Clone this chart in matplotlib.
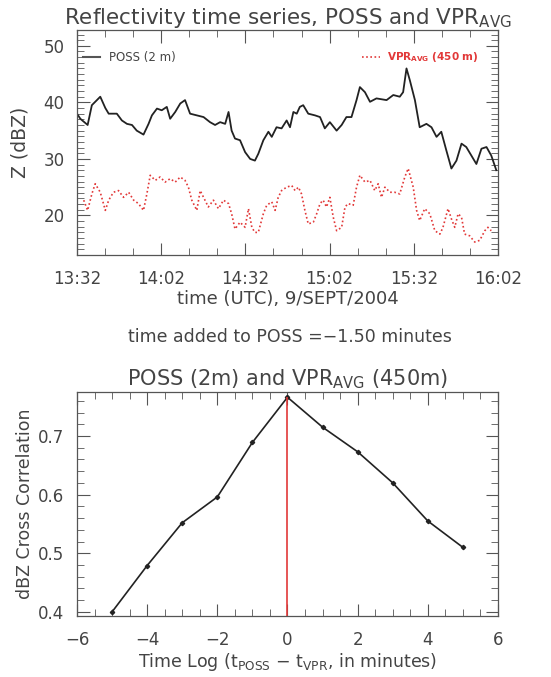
import matplotlib
matplotlib.use("Agg")
import matplotlib.pyplot as plt
from matplotlib.ticker import MultipleLocator, FixedLocator
import numpy as np

# Data

# minutes after 13:32 UTC
poss_t = [0, 1.2, 3.8, 5.3, 7.1, 8.3, 10.1, 11.3, 14.2, 16.0, 17.8, 19.6, 21.3,
          23.7, 25.5, 26.7, 28.5, 30.2, 32.0, 33.2, 35.0, 36.8, 38.5, 40.3, 42.7,
          45.1, 47.4, 49.2, 51.0, 52.8, 54.0, 55.1, 56.3, 58.1, 59.9, 61.7, 63.4,
          64.6, 66.4, 68.2, 69.4, 71.1, 72.9, 74.7, 75.9, 77.1, 78.3, 79.4, 80.6,
          82.4, 84.8, 86.6, 88.3, 90.1, 92.5, 94.3, 96.0, 97.8, 99.6, 100.8, 102.6,
          104.4, 106.7, 110.3, 112.7, 115.0, 116.2, 117.4, 118.6, 120.4, 122.1,
          124.5, 126.3, 128.1, 129.8, 131.6, 133.4, 135.2, 137.0, 138.7, 140.5,
          142.3, 144.1, 145.9, 147.6, 149.4]
poss_z = [38.0, 37.1, 36.0, 39.5, 40.4, 41.0, 39.0, 38.0, 38.0, 36.8, 36.2, 36.0,
          35.0, 34.3, 36.2, 37.7, 38.9, 38.6, 39.2, 37.1, 38.3, 39.8, 40.4, 38.0,
          37.7, 37.4, 36.5, 36.0, 36.5, 36.2, 38.3, 35.0, 33.6, 33.3, 31.2, 30.0,
          29.7, 30.9, 33.3, 34.8, 33.9, 35.6, 35.4, 36.8, 35.6, 38.3, 38.0, 39.2,
          39.5, 38.0, 37.7, 37.4, 35.4, 36.5, 35.0, 36.0, 37.4, 37.4, 40.4, 42.7,
          41.8, 40.1, 40.7, 40.4, 41.3, 41.0, 41.8, 46.0, 43.9, 40.4, 35.6, 36.2,
          35.6, 33.9, 34.8, 31.5, 28.3, 29.7, 32.7, 32.1, 30.6, 29.1, 31.8, 32.1,
          30.6, 28.0]

vpr_t = [2.4, 3.8, 5.3, 6.5, 8.3, 10.1, 11.3, 13.0, 14.8, 16.6, 18.4, 20.2, 21.9,
         23.7, 24.9, 26.1, 27.9, 29.6, 31.4, 33.2, 35.0, 36.8, 38.5, 39.7, 40.9,
         42.7, 43.9, 45.1, 46.8, 48.6, 50.4, 52.2, 54.0, 55.1, 56.3, 58.1, 59.9,
         61.1, 62.3, 63.4, 64.6, 66.4, 67.6, 69.4, 70.6, 71.7, 72.9, 74.7, 76.5,
         77.7, 78.9, 80.0, 81.2, 82.4, 84.2, 85.4, 86.6, 87.7, 88.9, 90.1, 91.3,
         92.5, 94.3, 95.5, 96.6, 98.4, 99.6, 100.8, 102.6, 104.4, 106.1, 107.3,
         108.5, 109.7, 111.5, 113.2, 115.0, 116.8, 118.0, 119.8, 121.0, 122.1,
         123.9, 125.7, 127.5, 129.3, 130.4, 132.2, 133.4, 134.6, 135.8, 137.0,
         138.1, 139.9, 141.7, 143.5, 145.3, 146.4, 147.6]
vpr_z = [22.7, 20.9, 23.8, 25.6, 24.1, 20.9, 22.7, 24.1, 24.4, 23.2, 24.1, 22.7,
         22.1, 20.9, 23.8, 27.1, 26.2, 26.8, 25.9, 26.5, 25.9, 26.8, 26.2, 25.0,
         22.7, 20.9, 24.4, 23.2, 21.5, 22.7, 21.2, 22.7, 22.1, 20.3, 17.6, 18.8,
         17.9, 21.2, 17.9, 17.0, 17.0, 20.3, 21.8, 22.4, 20.9, 23.2, 24.4, 25.0,
         25.3, 24.4, 25.0, 23.8, 20.9, 18.5, 18.8, 20.3, 22.1, 22.7, 21.5, 23.2,
         19.7, 17.3, 17.9, 21.5, 22.1, 21.8, 25.0, 27.1, 25.9, 26.2, 24.4, 25.6,
         23.2, 25.0, 24.1, 24.1, 23.8, 26.8, 28.3, 25.0, 20.9, 19.1, 21.2, 20.3,
         17.3, 16.7, 17.9, 21.2, 19.4, 17.9, 20.3, 19.7, 16.7, 16.4, 15.3, 15.6,
         17.3, 17.9, 17.3]

time_ticks = [0, 30, 60, 90, 120, 150]
time_labels = ["13:32", "14:02", "14:32", "15:02", "15:32", "16:02"]

lag = [-5, -4, -3, -2, -1, 0, 1, 2, 3, 4, 5]
corr = [0.400, 0.479, 0.552, 0.596, 0.689, 0.766, 0.715, 0.673, 0.620, 0.555, 0.510]

# Plotting

fig = plt.figure(figsize=(5.51, 6.77), dpi=100)
frame_col = "#555555"
txt_col = "#444444"
red = "#e23838"


def style_axes(ax):
    for s in ax.spines.values():
        s.set_color(frame_col)
        s.set_linewidth(0.9)
    ax.tick_params(which="both", direction="in", top=True, right=True,
                   colors=frame_col, labelcolor=txt_col, labelsize=12)
    ax.tick_params(which="major", length=9)
    ax.tick_params(which="minor", length=5)
    ax.tick_params(axis="x", pad=11)
    ax.tick_params(axis="y", pad=9)


ax1 = fig.add_axes([0.1397, 0.6233, 0.7641, 0.3324])
ax1.plot(poss_t, poss_z, color="#222222", lw=1.3)
ax1.plot(vpr_t, vpr_z, color=red, lw=1.2, ls=(0, (1, 1.5)))
ax1.set_xlim(0, 150)
ax1.set_ylim(13, 52.8)
ax1.xaxis.set_major_locator(FixedLocator(time_ticks))
ax1.set_xticklabels(time_labels)
ax1.xaxis.set_minor_locator(MultipleLocator(10))
ax1.yaxis.set_major_locator(MultipleLocator(10))
ax1.yaxis.set_minor_locator(MultipleLocator(1))
style_axes(ax1)
ax1.set_ylabel("Z (dBZ)", fontsize=13.5, color=txt_col, labelpad=10)
ax1.set_xlabel("time (UTC), 9/SEPT/2004", fontsize=13, color=txt_col, labelpad=1)
ax1.set_title(r"Reflectivity time series, POSS and VPR$_{\mathrm{AVG}}$",
              fontsize=15.5, color=txt_col, pad=0)

# legend entries
ax1.plot([2.1, 8.2], [48, 48], color="#555555", lw=1.5)
ax1.text(11.5, 48, "POSS (2 m)", fontsize=8.5, color=txt_col, va="center")
ax1.plot([101.6, 108], [48, 48], color=red, lw=1.2, ls=(0, (1, 1.5)))
ax1.text(110.5, 48, r"VPR$_{\mathbf{AVG}}$ (450 m)", fontsize=7.5, color=red,
         va="center", fontweight="bold")

fig.text(0.527, 0.502, "time added to POSS =\u22121.50 minutes", fontsize=12.5,
         color=txt_col, ha="center", va="center")

ax2 = fig.add_axes([0.1397, 0.0901, 0.7641, 0.3309])
ax2.plot(lag, corr, color="#222222", lw=1.2, marker="D", ms=2.2)
ax2.set_xlim(-6, 6)
ax2.set_ylim(0.393, 0.775)
peak = int(np.argmax(corr))
ax2.vlines(lag[peak], 0.393, corr[peak], color=red, lw=1.2)
ax2.xaxis.set_major_locator(MultipleLocator(2))
ax2.xaxis.set_minor_locator(MultipleLocator(0.5))
ax2.yaxis.set_major_locator(MultipleLocator(0.1))
ax2.yaxis.set_minor_locator(MultipleLocator(0.02))
ax2.yaxis.set_major_formatter(matplotlib.ticker.FormatStrFormatter("%.1f"))
style_axes(ax2)
ax2.set_ylabel("dBZ Cross Correlation", fontsize=12.5, color=txt_col, labelpad=3)
ax2.set_xlabel(r"Time Log (t$_{\mathrm{POSS}}$ $-$ t$_{\mathrm{VPR}}$, in minutes)",
               fontsize=12.5, color=txt_col, labelpad=1)
ax2.set_title(r"POSS (2m) and VPR$_{\mathrm{AVG}}$ (450m)", fontsize=15,
              color=txt_col, pad=5)

fig.savefig("out.png", dpi=100)
